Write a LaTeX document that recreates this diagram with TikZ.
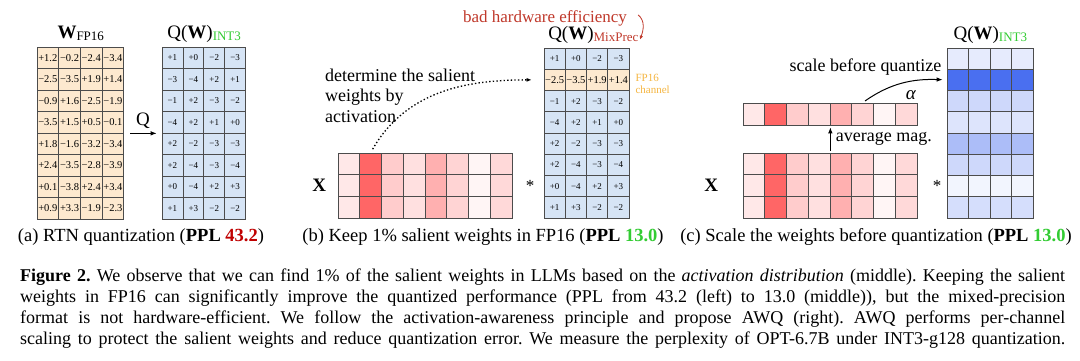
\documentclass[tikz,border=0pt]{standalone}
\usepackage{fontspec}
\setmainfont{Liberation Serif}
\usetikzlibrary{arrows.meta,positioning,calc}
\definecolor{wfill}{HTML}{FDE9CF}
\definecolor{qfill}{HTML}{D6E4F5}
\definecolor{awqblue}{HTML}{4A6FF0}
\definecolor{badred}{HTML}{C0392B}
\definecolor{pplred}{HTML}{C00000}
\definecolor{intgreen}{HTML}{33CC33}
\definecolor{fpgold}{HTML}{F5B642}
\newcommand{\pxf}[1]{\fontsize{#1}{#1}\selectfont}

\begin{document}
\begin{tikzpicture}[x=1pt,y=1pt,
    cell/.style={draw=black!70, line width=0.7pt, inner sep=0pt,
      minimum width=#1, minimum height=21.25pt},
    title/.style={anchor=base, font=\pxf{19}},
    note/.style={font=\pxf{18}, inner sep=0pt},
    subcap/.style={anchor=base, font=\pxf{18.5}, inner sep=0pt},
    arr/.style={-{Latex[length=6pt,width=4.5pt]}, line width=0.9pt}
  ]
\fill[white] (0,0) rectangle (1080,360);

% (a) RTN
\foreach \row [count=\rw] in {{+1.2,−0.2,−2.4,−3.4},{−2.5,−3.5,+1.9,+1.4},
    {−0.9,+1.6,−2.5,−1.9},{−3.5,+1.5,+0.5,−0.1},{+1.8,−1.6,−3.2,−3.4},
    {+2.4,−3.5,−2.8,−3.9},{+0.1,−3.8,+2.4,+3.4},{+0.9,+3.3,−1.9,−2.3}}
  \foreach \v [count=\cl] in \row
    \node[cell=21.7pt, minimum height=21.5pt, fill=wfill, font=\pxf{10.5}]
      (wa-\rw-\cl) at ({37+(\cl-0.5)*21.7},{313-(\rw-0.5)*21.5}) {\v};

\foreach \row [count=\rw] in {{+1,+0,−2,−3},{−3,−4,+2,+1},{−1,+2,−3,−2},
    {−4,+2,+1,+0},{+2,−2,−3,−3},{+2,−4,−3,−4},{+0,−4,+2,+3},{+1,+3,−2,−2}}
  \foreach \v [count=\cl] in \row
    \node[cell=20.9pt, minimum height=21.5pt, fill=qfill, font=\pxf{9}]
      (qa-\rw-\cl) at ({162+(\cl-0.5)*20.9},{313-(\rw-0.5)*21.5}) {\v};

\node[title] (wtitle) at ($(wa-1-2.north east)+(0,8)$)
  {\textbf{W}\raisebox{-2pt}{\pxf{13}FP16}};
\node[title] (qatitle) at ($(qa-1-2.north east)+(0,8)$)
  {Q(\textbf{W})\raisebox{-2pt}{\pxf{13}\color{intgreen}INT3}};
\draw[arr, shorten <=6pt, shorten >=5pt] (wa-4-4.south east) -- (qa-4-1.south west)
  node[midway, above=1pt, font=\pxf{19}] (qsym) {Q};
\node[subcap] (capa) at (141,119)
  {(a) RTN quantization (\textbf{PPL \textcolor{pplred}{43.2}})};

% (b) keep salient channel in FP16
\foreach \row [count=\rw] in {{+1,+0,−2,−3},{−2.5,−3.5,+1.9,+1.4},{−1,+2,−3,−2},
    {−4,+2,+1,+0},{+2,−2,−3,−3},{+2,−4,−3,−4},{+0,−4,+2,+3},{+1,+3,−2,−2}}
  \foreach \v [count=\cl] in \row {
    \ifnum\rw=2 \def\cfil{wfill}\def\cfnt{\pxf{10.5}}\else\def\cfil{qfill}\def\cfnt{\pxf{9}}\fi
    \node[cell=21.25pt, fill=\cfil, font=\cfnt]
      (qb-\rw-\cl) at ({544+(\cl-0.5)*21.25},{312-(\rw-0.5)*21.25}) {\v};
  }

% activations X and their average magnitude
\foreach \p [count=\cl] in {9,60,20,12,31,17,4,15} {
  \foreach \rw in {1,2,3} {
    \node[cell=21.75pt, minimum height=21.7pt, fill=red!\p]
      (xb-\rw-\cl) at ({338+(\cl-0.5)*21.75},{207-(\rw-0.5)*21.7}) {};
    \node[cell=21.75pt, minimum height=21.7pt, fill=red!\p]
      (xc-\rw-\cl) at ({743+(\cl-0.5)*21.75},{207-(\rw-0.5)*21.7}) {};
  }
  \node[cell=21.75pt, minimum height=22pt, fill=red!\p]
    (al-\cl) at ({743+(\cl-0.5)*21.75},246) {};
}

\node[title] (qbtitle) at ($(qb-1-2.north east)+(6.5,8)$)
  {Q(\textbf{W})\raisebox{-2pt}{\pxf{13}\color{badred}MixPrec}};
\node[note, anchor=base, text=badred, font=\pxf{17}] (bad) at (545,338)
  {bad hardware efficiency};
\draw[badred, line width=0.8pt, -{Latex[length=4pt,width=3.5pt]}]
  ($(bad.east)+(11,3)$) to[out=-40,in=70] ($(qbtitle.base east)+(-2,0)$);
\node[anchor=west, align=left, inner sep=0pt, text=fpgold,
  font=\fontsize{11}{11.5}\selectfont] (fpch) at ($(qb-2-4.east)+(6,-4)$)
  {FP16\\channel};
\node[note, anchor=base west, align=left, font=\fontsize{18}{20.5}\selectfont]
  (salient) at (325,238) {determine the salient\\weights by\\activation};
\draw[line width=1.3pt, dash pattern=on 1.4pt off 2.2pt, -{Latex[length=5pt,width=4pt]},
  shorten <=4pt, shorten >=12pt] (xb-1-2.north) to[out=60,in=180] (qb-2-1.west);
\node[font=\pxf{19}\bfseries, left=8pt of xb-2-1] (xblab) {X};
\node[font=\pxf{17}, right=10pt of xb-2-8] (starb) {*};
\node[subcap] (capb) at (483,119)
  {(b) Keep 1\% salient weights in FP16 (\textbf{PPL \textcolor{intgreen}{13.0}})};

% (c) AWQ: scale before quantize
\foreach \p [count=\rw] in {14,100,27,19,46,27,7,23}
  \foreach \cl in {1,...,4}
    \node[cell=21.5pt, fill=awqblue!\p]
      (qc-\rw-\cl) at ({947+(\cl-0.5)*21.5},{312-(\rw-0.5)*21.25}) {};
\node[title] (qctitle) at ($(qc-1-2.north east)+(0,8)$)
  {Q(\textbf{W})\raisebox{-2pt}{\pxf{13}\color{intgreen}INT3}};
\draw[arr, shorten <=2pt, shorten >=2pt] (xc-1-4.north east) -- (al-4.south east)
  node[midway, right=5pt, note] (avg) {average mag.};
\node[note, anchor=base east, font=\pxf{19}] (alpha) at ($(al-8.north east)+(-1,3)$)
  {\textit{α}};
\draw[-{Latex[length=6pt,width=4.5pt]}, line width=1pt, shorten <=3pt, shorten >=4pt]
  (al-6.north) to[out=35,in=178] (qc-2-1.west);
\node[note, anchor=base east] (scale) at ($(qc-2-1.north west)+(-5,-3)$)
  {scale before quantize};
\node[font=\pxf{19}\bfseries, left=21pt of xc-2-1] (xclab) {X};
\node[font=\pxf{17}, right=12pt of xc-2-8] (starc) {*};
\node[subcap] (capc) at (876,119)
  {(c) Scale the weights before quantization (\textbf{PPL \textcolor{intgreen}{13.0}})};

% figure caption
\node[anchor=base west, inner sep=0pt, text width=1045pt, align=justify,
  font=\fontsize{18}{21}\selectfont\frenchspacing] (figcap) at (20,78.3) {%
  \spaceskip=0pt \xspaceskip=0pt
  \hbox to 1045pt{\textbf{Figure 2.} We observe that we can find 1\% of the salient weights in LLMs based on the \textit{activation distribution} (middle). Keeping the salient}\\
  \hbox to 1045pt{weights in FP16 can significantly improve the quantized performance (PPL from 43.2 (left) to 13.0 (middle)), but the mixed-precision}\\
  \hbox to 1045pt{format is not hardware-efficient. We follow the activation-awareness principle and propose AWQ (right). AWQ performs per-channel}\\
  \hbox to 1045pt{scaling to protect the salient weights and reduce quantization error. We measure the perplexity of OPT-6.7B under INT3-g128 quantization.}};
\end{tikzpicture}
\end{document}
